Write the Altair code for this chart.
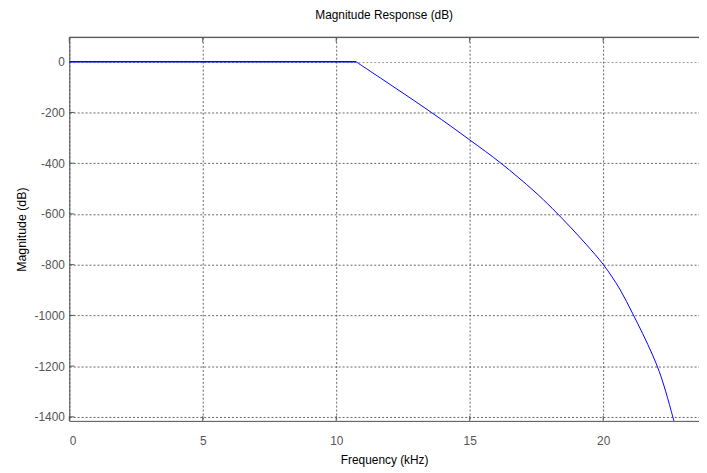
import altair as alt
import pandas as pd

# Data
freq_khz = [0, 10.74, 12.22, 13.58, 15.01, 16.17, 17.41, 18.09, 18.77, 19.38,
            20.0, 20.62, 21.11, 21.48, 21.85, 22.10, 22.34, 22.65]
mag_db = [0, 0, -104, -201, -309, -400, -510, -578, -652, -722,
          -799, -896, -994, -1072, -1156, -1221, -1299, -1416]
# index where the roll-off begins (passband edge)
KNEE = 1

x_ticks = [0, 5, 10, 15, 20]
y_ticks = [0, -200, -400, -600, -800, -1000, -1200, -1400]

X_DOMAIN = [0, 23.59]
Y_DOMAIN = [-1416, 96]
W, H = 637, 388

flat = pd.DataFrame({"f": freq_khz[:KNEE + 1], "m": mag_db[:KNEE + 1]})
roll = pd.DataFrame({"f": freq_khz[KNEE:], "m": mag_db[KNEE:]})
xt = pd.DataFrame({"f": x_ticks})
yt = pd.DataFrame({"m": y_ticks})

xscale = alt.Scale(domain=X_DOMAIN, nice=False, zero=False)
yscale = alt.Scale(domain=Y_DOMAIN, nice=False, zero=False)

FONT = "Liberation Sans"

x_enc = alt.X("f:Q", scale=xscale, title="Frequency (kHz)",
              axis=alt.Axis(values=x_ticks, grid=True, gridColor="#555", gridDash=[2, 2], gridOpacity=0.9,
                            ticks=False, labelPadding=15, domainColor="#555", domainWidth=1,
                            labelExpr="'' + datum.value", zindex=0,
                            labelColor="#555", labelFont=FONT, labelFontSize=12,
                            titleFont=FONT, titleFontSize=12, titleFontWeight="normal", titleColor="#000",
                            titlePadding=8))
y_enc = alt.Y("m:Q", scale=yscale, title="Magnitude (dB)",
              axis=alt.Axis(values=y_ticks, grid=True, gridColor="#555", gridDash=[2, 2],
                            gridOpacity={"condition": {"test": "datum.value === 0", "value": 0.6},
                                         "value": 0.9},
                            ticks=False, labelPadding=5, domainColor="#555", domainWidth=1,
                            labelExpr="'' + datum.value", zindex=0,
                            labelColor="#555", labelFont=FONT, labelFontSize=12,
                            titleFont=FONT, titleFontSize=12.5, titleFontWeight="normal", titleColor="#000",
                            titlePadding=6))

line_flat = alt.Chart(flat).mark_line(color="#0000ff", strokeWidth=1.4, clip=True).encode(x=x_enc, y=y_enc)
line_roll = alt.Chart(roll).mark_line(color="#0000ff", strokeWidth=1, clip=True,
                                      interpolate="catmull-rom").encode(x="f:Q", y="m:Q")

top_line = alt.Chart(flat).mark_rule(color="#555", strokeWidth=1).encode(y=alt.value(0))

ytick_left = alt.Chart(yt).mark_rule(color="#555", strokeWidth=1).encode(
    y=alt.Y("m:Q", scale=yscale), x=alt.value(0), x2=alt.value(5))
xtick_bottom = alt.Chart(xt).mark_rule(color="#555", strokeWidth=1).encode(
    x=alt.X("f:Q", scale=xscale), y=alt.value(H), y2=alt.value(H - 5))
xtick_top = alt.Chart(xt).mark_rule(color="#555", strokeWidth=1).encode(
    x=alt.X("f:Q", scale=xscale), y=alt.value(0), y2=alt.value(5))

chart = alt.layer(top_line, ytick_left, xtick_bottom, xtick_top, line_flat, line_roll).properties(
    width=W, height=H,
    title=alt.TitleParams("Magnitude Response (dB)", font=FONT, fontSize=12, fontWeight="normal",
                          color="#000", offset=15),
    autosize=alt.AutoSizeParams(type="none"),
    padding={"left": 62, "top": 27, "right": 0, "bottom": 50},
).configure_view(stroke=None).configure(background="white")

chart.save("out.html", embed_options={"renderer": "svg", "actions": False})
